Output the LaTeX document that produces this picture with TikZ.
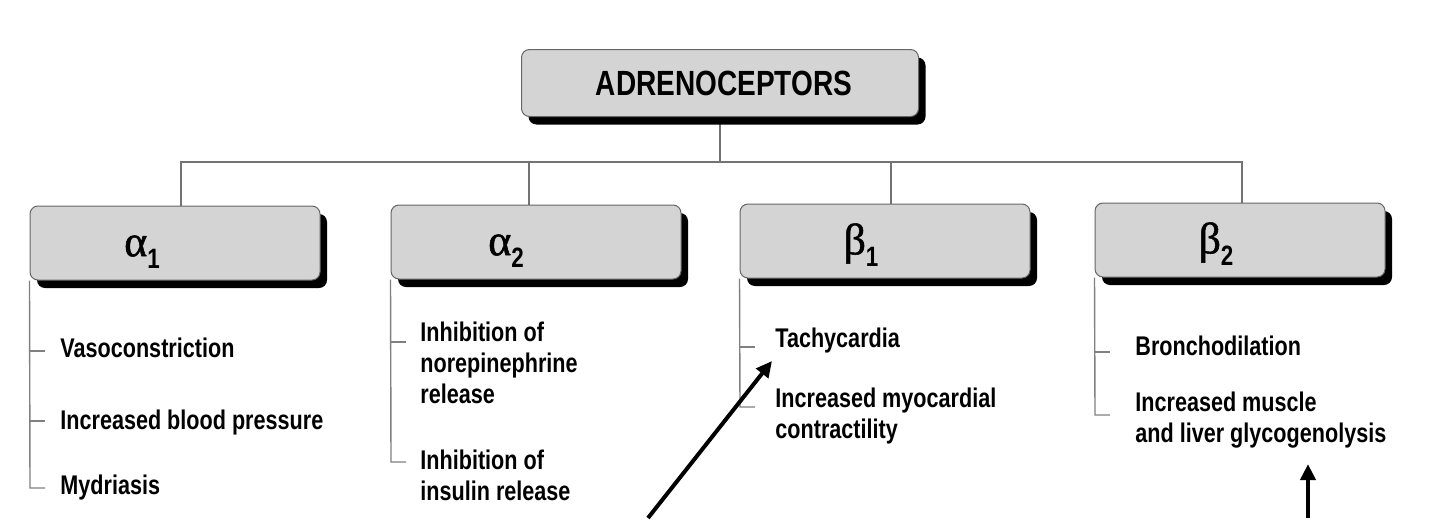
\documentclass[tikz,border=0pt]{standalone}
\usepackage{fontspec}
\setmainfont{Liberation Sans}[FakeStretch=0.8]
\newfontfamily\greekfont{Liberation Serif}[FakeBold=1.2]
\usepackage{tikz}
\usetikzlibrary{arrows.meta,shadows}
\pgfdeclarelayer{background}
\pgfsetlayers{background,main}
\newcommand\recsub[1]{\raisebox{-0.28em}{\normalfont\bfseries\fontsize{14}{14}\selectfont #1}}
\tikzstyle{receptor}=[draw=black!60, fill=black!17
,rounded corners=4pt
,line width=0.5pt
,minimum width=145pt, minimum height=37pt
,drop shadow={shadow xshift=3.5pt,shadow yshift=-4pt,fill=black,opacity=1}
]
\tikzstyle{greek} = [inner sep=0pt, font=\greekfont\fontsize{22}{24}\selectfont]
\tikzstyle{effect} = [anchor=north west, inner sep=0pt, align=left
,font=\fontsize{13.5}{15.5}\selectfont\bfseries]
\tikzstyle{tree} = [draw=black!55, line width=0.9pt]
\tikzstyle{list} = [draw=black!50, line width=0.7pt]
\tikzstyle{pointer} = [draw, line width=2pt, -{Triangle[length=8pt,width=7.5pt]}]

\begin{document}
\begin{tikzpicture}[x=0.5pt,y=-0.5pt]
    \begin{pgfonlayer}{background}
    \fill[white] (0,0) rectangle (1440,518);
    \end{pgfonlayer}
    % First we draw the receptor boxes
    \node[receptor, minimum width=198.5pt, minimum height=33.5pt
    , font=\fontsize{17.5}{20}\selectfont\bfseries] (top) at (720,83) {\hspace{4pt}ADRENOCEPTORS};
    \foreach \pos/\name in {{(175,243)/a1}, {(536,242)/a2}, {(885,241)/b1}, {(1240,240)/b2}}
        \node[receptor] (\name) at \pos {};

    \foreach \pos/\name/\txt in {{(142,252)/a1n/α\recsub{1}}, {(506,251)/a2n/α\recsub{2}},
        {(861,245)/b1n/β\recsub{1}}, {(1216,244)/b2n/β\recsub{2}}}
        \node[greek] (\name) at \pos {\txt};

    % Then the effects of each receptor
    \foreach \pos/\name/\txt in {{(60,338)/a1x/Vasoconstriction}, {(60,410)/a1y/Increased blood pressure},
        {(60,475)/a1z/Mydriasis}, {(420,322)/a2x/{Inhibition of\\norepinephrine\\release}},
        {(420,450)/a2y/{Inhibition of\\insulin release}}, {(775,328)/b1x/Tachycardia},
        {(775,388)/b1y/{Increased myocardial\\contractility}}, {(1135,336)/b2x/Bronchodilation},
        {(1135,392)/b2y/{Increased muscle\\and liver glycogenolysis}}}
        \node[effect] (\name) at \pos {\txt};

    % Tick points on the lists
    \coordinate (bus) at (720,162);
    \foreach \pos/\name in {{(30,351)/a1p}, {(30,421)/a1q}, {(30,488)/a1r}, {(391,342)/a2p}, {(391,462)/a2q},
        {(740,347)/b1p}, {(740,407)/b1q}, {(1095,352)/b2p}, {(1095,415)/b2q}}
        \path \pos coordinate (\name);

    % Connect the boxes
    \begin{pgfonlayer}{background}
    \path[tree] (top.south) -- (bus);
    \path[tree] ([xshift=3pt]a1.north |- bus) -- ([xshift=1pt]b2.north |- bus);
    \foreach \rec/\dx in {a1/3pt, a2/-3.5pt, b1/3pt, b2/1pt}
        \path[tree] ([xshift=\dx]\rec.north) |- (bus);
    \foreach \rec/\last in {a1/a1r, a2/a2q, b1/b1q, b2/b2q}
        \path[list] (\rec.south west) -- (\last) -- ++(15,0);
    \foreach \t in {a1p,a1q,a2p,b1p,b2p}
        \path[list] (\t) -- ++(15,0);
    \end{pgfonlayer}

    % Arrows
    \coordinate (tailA) at (648,518);
    \coordinate (tailB) at (1308,518);
    \path[pointer] (tailA) -- ([shift={(-3,7)}]b1x.south west);
    \path[pointer] (tailB) -- ([shift={(173,15)}]b2y.south west);
\end{tikzpicture}
\end{document}
